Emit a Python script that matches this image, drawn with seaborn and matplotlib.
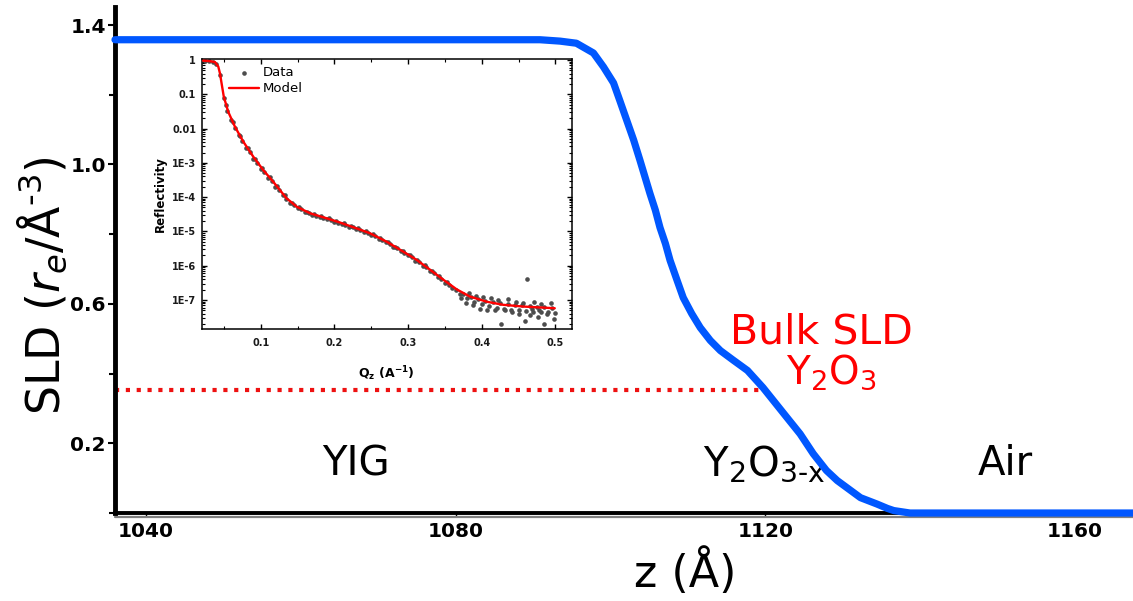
import numpy as np
import pandas as pd
import matplotlib
matplotlib.use("Agg")
import matplotlib.pyplot as plt
import matplotlib.ticker as mticker
import seaborn as sns

# ---------------- data ----------------
# SLD profile (z in Angstrom, SLD in r_e/A^-3)
z_profile = [1036.0, 1088.3, 1090.9, 1093.5, 1095.6, 1097.8, 1099.1, 1100.4, 1101.2,
             1102.1, 1103.0, 1103.8, 1105.1, 1105.8, 1106.4, 1107.1, 1107.7, 1108.6,
             1109.4, 1110.5, 1111.6, 1112.9, 1114.2, 1115.9, 1117.7, 1119.7, 1122.8,
             1124.5, 1126.2, 1127.9, 1129.3, 1132.3, 1134.4, 1135.8, 1136.6, 1138.7, 1167.5]
sld_profile = [1.358, 1.358, 1.358, 1.354, 1.348, 1.320, 1.280, 1.234, 1.184,
               1.127, 1.070, 1.013, 0.917, 0.869, 0.819, 0.773, 0.725, 0.668,
               0.618, 0.572, 0.532, 0.495, 0.466, 0.438, 0.409, 0.360, 0.274,
               0.227, 0.170, 0.122, 0.093, 0.044, 0.026, 0.013, 0.007, 0.0, 0.0]

bulk_sld_y2o3 = 0.353
bulk_z_range = [1036.0, 1119.7]

x_ticks = [1040, 1080, 1120, 1160]
y_ticks_major = [0.2, 0.6, 1.0, 1.4]
y_ticks_minor = [0.0, 0.4, 0.8, 1.2]

# Inset reflectivity: measured data (Qz, log10 R)
q_data = [0.025, 0.030, 0.035, 0.040, 0.045, 0.050, 0.055, 0.060, 0.065, 0.070,
          0.075, 0.080, 0.085, 0.090, 0.095, 0.100, 0.105, 0.110, 0.115, 0.120,
          0.125, 0.130, 0.135, 0.140, 0.145, 0.150, 0.155, 0.160, 0.165, 0.170,
          0.175, 0.180, 0.185, 0.190, 0.195, 0.200, 0.205, 0.210, 0.215, 0.220,
          0.225, 0.230, 0.235, 0.240, 0.245, 0.250, 0.255, 0.260, 0.265, 0.270,
          0.275, 0.280, 0.285, 0.290, 0.295, 0.300, 0.305, 0.310, 0.315, 0.320,
          0.325, 0.330, 0.335, 0.340, 0.345, 0.350, 0.355, 0.360, 0.365, 0.370,
          0.375, 0.380, 0.385, 0.390, 0.395, 0.400, 0.405, 0.410, 0.415, 0.420,
          0.425, 0.430, 0.435, 0.440, 0.445, 0.450, 0.455, 0.460, 0.465, 0.470,
          0.475, 0.480, 0.485, 0.490, 0.495, 0.500]
logr_data = [-0.03, -0.04, -0.06, -0.12, -0.45, -1.10, -1.50, -1.76, -1.97, -2.20,
             -2.36, -2.56, -2.69, -2.88, -3.00, -3.17, -3.28, -3.44, -3.53, -3.69,
             -3.79, -3.94, -4.05, -4.17, -4.24, -4.32, -4.36, -4.44, -4.47, -4.52,
             -4.54, -4.59, -4.60, -4.65, -4.66, -4.72, -4.74, -4.79, -4.81, -4.87,
             -4.88, -4.94, -4.95, -5.02, -5.04, -5.10, -5.13, -5.21, -5.24, -5.32,
             -5.36, -5.44, -5.49, -5.58, -5.62, -5.70, -5.75, -5.85, -5.89, -6.00,
             -6.05, -6.16, -6.21, -6.33, -6.38, -6.50, -6.55, -6.66, -6.70, -6.82,
             -6.83, -6.95, -6.90, -7.05, -6.98, -7.12, -7.02, -7.18, -7.06, -7.22,
             -7.10, -7.25, -7.12, -7.28, -7.15, -7.30, -7.16, -7.32, -7.18, -7.34,
             -7.20, -7.35, -7.21, -7.36, -7.22, -7.38]
q_data_b = [0.0525, 0.0625, 0.0725, 0.0825, 0.0925, 0.1025, 0.1125, 0.1225, 0.1325,
            0.1425, 0.1525, 0.1625, 0.1725, 0.1825, 0.1925, 0.2025, 0.2125, 0.2225,
            0.2325, 0.2425, 0.2525, 0.2625, 0.2725, 0.2825, 0.2925, 0.3025, 0.3125,
            0.3225, 0.3325, 0.3425, 0.3525]
logr_data_b = [-1.30, -1.82, -2.22, -2.56, -2.88, -3.16, -3.42, -3.67, -3.94,
               -4.16, -4.30, -4.42, -4.50, -4.56, -4.62, -4.69, -4.76, -4.84,
               -4.91, -4.99, -5.08, -5.19, -5.31, -5.44, -5.57, -5.70, -5.84,
               -5.99, -6.15, -6.31, -6.47]
q_data_hi = [0.372, 0.378, 0.383, 0.388, 0.392, 0.397, 0.402, 0.407, 0.412, 0.418,
             0.422, 0.426, 0.431, 0.436, 0.441, 0.446, 0.451, 0.456, 0.461, 0.466,
             0.471, 0.476, 0.481, 0.485, 0.489, 0.494, 0.498, 0.478, 0.468, 0.458]
logr_data_hi = [-6.95, -7.10, -6.80, -7.15, -6.88, -7.25, -6.92, -7.30, -6.95, -7.28,
                -7.00, -7.70, -7.30, -6.98, -7.35, -7.05, -7.40, -7.10, -6.39, -7.45,
                -7.05, -7.50, -7.12, -7.70, -7.40, -7.08, -7.55, -7.30, -7.25, -7.60]

# Inset model curve (Qz, log10 R)
q_model = [0.022, 0.030, 0.038, 0.0425, 0.0448, 0.047, 0.050, 0.056, 0.065, 0.0764,
           0.090, 0.1035, 0.117, 0.135, 0.149, 0.167, 0.190, 0.2076, 0.230, 0.248,
           0.271, 0.2935, 0.3117, 0.330, 0.348, 0.366, 0.384, 0.4067, 0.429, 0.456, 0.499]
logr_model = [-0.02, -0.03, -0.06, -0.19, -0.39, -0.68, -1.07, -1.51, -1.94, -2.38,
              -2.82, -3.21, -3.55, -4.03, -4.28, -4.47, -4.62, -4.74, -4.91, -5.05,
              -5.30, -5.59, -5.83, -6.12, -6.41, -6.69, -6.90, -7.05, -7.14, -7.19, -7.24]

inset_xticks = [0.1, 0.2, 0.3, 0.4, 0.5]
inset_yticks = [1, 0.1, 0.01, 1e-3, 1e-4, 1e-5, 1e-6, 1e-7]
inset_yticklabels = ["1", "0.1", "0.01", "1E-3", "1E-4", "1E-5", "1E-6", "1E-7"]

# ---------------- style ----------------
sns.set_style("white")
plt.rcParams["font.family"] = ["DejaVu Sans"]
plt.rcParams["mathtext.fontset"] = "dejavusans"
plt.rcParams["mathtext.default"] = "regular"
for key in ["text.color", "axes.labelcolor", "xtick.color", "ytick.color"]:
    plt.rcParams[key] = "black"

BLUE = "#0057ff"
RED = "#ff0000"

fig = plt.figure(figsize=(11.33, 6.01), dpi=100)
ax = fig.add_axes([0.1015, 0.1464, 0.8985, 0.8420])

prof = pd.DataFrame({"z": z_profile, "sld": sld_profile})
sns.lineplot(data=prof, x="z", y="sld", ax=ax, color=BLUE, lw=5.2,
             sort=False, estimator=None)
ax.lines[-1].set_clip_on(False)
ax.lines[-1].set_zorder(5)
ax.lines[-1].set_solid_joinstyle("round")

bulk = pd.DataFrame({"z": bulk_z_range, "sld": [bulk_sld_y2o3, bulk_sld_y2o3]})
sns.lineplot(data=bulk, x="z", y="sld", ax=ax, color="#ee1111", lw=3.0,
             linestyle=(0, (1, 1.6)), sort=False, estimator=None)

ax.set_xlim(1036.0, 1167.5)
ax.set_ylim(0.0, 1.452)

for s in ["top", "right"]:
    ax.spines[s].set_visible(False)
ax.spines["left"].set_linewidth(3.5)
ax.spines["bottom"].set_linewidth(2.8)
ax.spines["left"].set_color("black")
ax.spines["bottom"].set_color("black")
# gray shadow under the bottom axis line
ax.plot([0, 1], [-0.008, -0.008], transform=ax.transAxes, color="#808080",
        lw=1.6, clip_on=False, zorder=1)

ax.set_xticks(x_ticks)
ax.set_xticklabels([str(t) for t in x_ticks])
ax.set_yticks(y_ticks_major)
ax.set_yticklabels([f"{t:.1f}" for t in y_ticks_major])
ax.set_yticks(y_ticks_minor, minor=True)
ax.tick_params(axis="x", direction="out", length=2.5, width=1.0, pad=4,
               labelsize=14.5, bottom=True)
ax.tick_params(axis="y", which="major", direction="out", length=5, width=1.5,
               pad=1.5, labelsize=14.5, left=True)
ax.tick_params(axis="y", which="minor", direction="out", length=4.5, width=1.5, left=True)
for lbl in ax.get_xticklabels() + ax.get_yticklabels():
    lbl.set_fontweight("bold")

ax.set_xlabel("z (Å)", fontsize=32)
ax.xaxis.label.set_va("center")
ax.xaxis.set_label_coords(0.56, -0.117)
ax.set_ylabel(r"SLD ($\mathit{r}_{\mathit{e}}$/Å$^{\text{-}3}$)", fontsize=33)
ax.yaxis.label.set_va("center")
ax.yaxis.set_label_coords(-0.071, 0.45)

ax.text(1062.7, 0.108, "YIG", fontsize=29, ha="left", va="baseline")
ax.text(1112.0, 0.108, r"Y$_2$O$_{3\text{-x}}$", fontsize=29, ha="left", va="baseline")
ax.text(1147.5, 0.108, "Air", fontsize=29, ha="left", va="baseline")
ax.text(1127.3, 0.486, "Bulk SLD", fontsize=29.5, color=RED, ha="center", va="baseline")
ax.text(1128.5, 0.371, r"Y$_2$O$_3$", fontsize=28, color=RED, ha="center", va="baseline")

# ---------------- inset ----------------
ins = fig.add_axes([0.178, 0.4521, 0.3266, 0.4493])
ins.set_facecolor("white")

data_all = pd.DataFrame({
    "q": q_data + q_data_b + q_data_hi,
    "R": [10 ** v for v in (logr_data + logr_data_b + logr_data_hi)],
})
model = pd.DataFrame({"q": q_model, "R": [10 ** v for v in logr_model]})

sns.scatterplot(data=data_all, x="q", y="R", ax=ins, color="#4d4d4d", s=11,
                linewidth=0, label="Data", zorder=2)
sns.lineplot(data=model, x="q", y="R", ax=ins, color=RED, lw=1.7,
             sort=False, estimator=None, label="Model", zorder=3)

ins.set_yscale("log")
ins.set_xlim(0.02, 0.522)
ins.set_ylim(1.4e-8, 1.05)
for s in ins.spines.values():
    s.set_linewidth(1.1)
    s.set_color("black")
    s.set_visible(True)

ins.xaxis.set_major_locator(mticker.FixedLocator(inset_xticks))
ins.xaxis.set_major_formatter(mticker.FixedFormatter([f"{t:.1f}" for t in inset_xticks]))
ins.xaxis.set_minor_locator(mticker.MultipleLocator(0.05))
ins.yaxis.set_major_locator(mticker.FixedLocator(inset_yticks))
ins.yaxis.set_major_formatter(mticker.FixedFormatter(inset_yticklabels))
ins.yaxis.set_minor_locator(mticker.LogLocator(base=10, subs=np.arange(2, 10), numticks=20))
ins.yaxis.set_minor_formatter(mticker.NullFormatter())
ins.tick_params(which="both", direction="in", top=True, right=True,
                bottom=True, left=True, labelsize=7)
ins.tick_params(which="major", length=3.5, width=1.0, pad=4)
ins.tick_params(which="minor", length=2.0, width=0.8)
ins.tick_params(axis="x", which="major", pad=6)
for lbl in ins.get_xticklabels() + ins.get_yticklabels():
    lbl.set_fontweight("bold")
    lbl.set_color("#1a1a1a")

ins.set_xlabel(r"Q$_\mathbf{z}$ (A$^\mathbf{-1}$)", fontsize=9, fontweight="bold",
               labelpad=12)
ins.set_ylabel("Reflectivity", fontsize=8.5, fontweight="bold", labelpad=4)

leg = ins.legend(loc="upper left", bbox_to_anchor=(0.074, 0.975), frameon=False,
                 fontsize=9.5, borderaxespad=0, borderpad=0, handlelength=2.3,
                 handletextpad=0.25, labelspacing=0.25, markerscale=1.0)

fig.savefig("out.png", dpi=100)
